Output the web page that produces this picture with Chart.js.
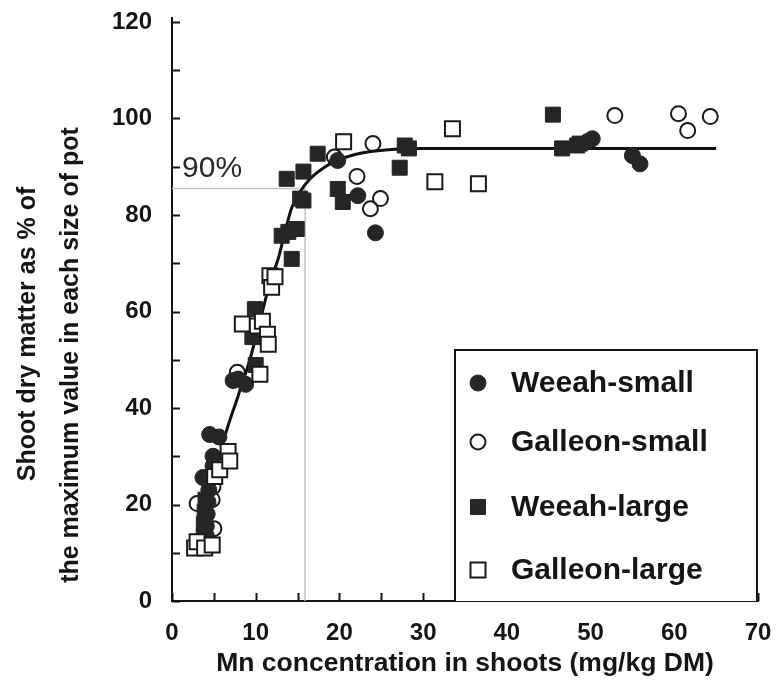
<!DOCTYPE html>
<html>
<head>
<meta charset="utf-8">
<script src="https://cdn.jsdelivr.net/npm/chart.js@4.4.1/dist/chart.umd.min.js"></script>
<style>
html,body{margin:0;padding:0;background:#fff;}
#wrap{width:776px;height:688px;position:relative;}
</style>
</head>
<body>
<div id="wrap"><canvas id="c" width="776" height="688"></canvas></div>
<script>
// ---- data ----
const weeahSmallX = [3.7, 4.1, 4.1, 4.2, 4.3, 4.4, 4.9, 4.9, 4.5, 5.6, 7.3, 7.9, 8.8, 19.8, 22.2, 24.3, 49.6, 50.2, 55.0, 55.9];
const weeahSmallY = [25.6, 13.5, 15.5, 18, 20.5, 23, 28, 30, 34.5, 34, 45.7, 46, 44.9, 91.3, 84, 76.3, 95.2, 95.8, 92.3, 90.6];

const galleonSmallX = [3.0, 4.8, 4.9, 5.0, 5.7, 7.8, 10.5, 19.4, 22.1, 23.7, 24.9, 24.0, 52.9, 60.5, 61.6, 64.3];
const galleonSmallY = [20.2, 21, 23.7, 15, 28.3, 47.4, 56.3, 92, 88, 81.3, 83.4, 94.8, 100.6, 101, 97.5, 100.4];

const weeahLargeX = [3.8, 3.8, 3.9, 4.0, 9.6, 9.9, 10.0, 13.1, 13.9, 14.9, 14.3, 15.3, 15.7, 13.7, 15.7, 17.4, 19.8, 20.4, 27.2, 27.8, 28.3, 45.5, 46.6, 48.4, 48.7];
const weeahLargeY = [13.5, 16, 18.5, 21, 54.7, 60.5, 48.9, 75.7, 76.5, 77.1, 70.9, 83.4, 83, 87.5, 89, 92.7, 85.4, 82.7, 89.8, 94.4, 93.8, 100.8, 93.8, 94.4, 94.8];

const galleonLargeX = [2.7, 3.0, 3.9, 4.8, 5.1, 5.7, 6.7, 6.9, 8.4, 10.2, 10.5, 10.8, 11.4, 11.5, 11.7, 11.9, 12.3, 20.5, 31.4, 33.5, 36.6];
const galleonLargeY = [11, 12.3, 11, 11.6, 25.8, 27.2, 31, 29, 57.4, 57, 47, 58, 55.3, 53.2, 67.4, 65, 67.2, 95.2, 86.9, 97.9, 86.5];

const fitX = [3.6, 4.6, 5.5, 6.3, 7.9, 9.3, 10.8, 11.7, 12.7, 13.5, 14.3, 15.3, 16.5, 18.5, 20, 22, 24, 27, 30, 65];
const fitY = [12, 21, 28, 34, 42.5, 50, 60, 66, 71, 76.5, 81.5, 84.8, 87.5, 90.2, 91.5, 92.6, 93.2, 93.7, 93.8, 93.8];

const refLineX = [0, 15.9, 15.9];
const refLineY = [85.5, 85.5, 0];
const refLabel = '90%';
const refLabelPos = [1.2, 89.6];

const xTicksMin = 0, xTicksMax = 70, xStep = 10, xMinorStep = 5;
const yTicksMin = 0, yTicksMax = 120, yStep = 20, yMinorStep = 10;

const xTitle = 'Mn concentration in shoots (mg/kg DM)';
const yTitleLines = ['Shoot dry matter as % of', 'the maximum value in each size of pot'];
const seriesNames = ['Weeah-small', 'Galleon-small', 'Weeah-large', 'Galleon-large'];

// ---- chart ----
const FONT = '"Liberation Sans", Arial, Helvetica, sans-serif';
const INK = '#151515';
const pts = (xs, ys) => xs.map((x, i) => ({x: x, y: ys[i]}));

const markerStyles = {
  'Weeah-small':   {shape: 'circle', fill: '#262626', stroke: '#262626', r: 8, lw: 1},
  'Galleon-small': {shape: 'circle', fill: 'rgba(255,255,255,0)', stroke: '#1a1a1a', r: 7.5, lw: 2},
  'Weeah-large':   {shape: 'rect', fill: '#262626', stroke: '#262626', r: 10.6, lw: 1},
  'Galleon-large': {shape: 'rect', fill: '#ffffff', stroke: '#1a1a1a', r: 10.6, lw: 2}
};

function scatterSet(name, xs, ys, order) {
  const m = markerStyles[name];
  return {
    label: name, data: pts(xs, ys), pointStyle: m.shape, pointRadius: m.r,
    backgroundColor: m.fill, borderColor: m.stroke, borderWidth: m.lw,
    pointHoverRadius: m.r, order: order
  };
}

const overlay = {
  id: 'overlay',
  beforeDatasetsDraw(chart) {
    const ctx = chart.ctx, xs = chart.scales.x, ys = chart.scales.y, a = chart.chartArea;
    ctx.save();
    ctx.strokeStyle = INK; ctx.lineWidth = 2;
    ctx.beginPath();
    ctx.moveTo(a.left, a.top); ctx.lineTo(a.left, a.top - 5);
    for (let v = yTicksMin; v <= yTicksMax; v += yMinorStep) {
      const py = Math.round(ys.getPixelForValue(v)) + 0.5;
      ctx.moveTo(a.left, py); ctx.lineTo(a.left + 8, py);
    }
    for (let v = xTicksMin; v <= xTicksMax; v += xMinorStep) {
      const px = Math.round(xs.getPixelForValue(v)) + 0.5;
      ctx.moveTo(px, a.bottom); ctx.lineTo(px, a.bottom - 8);
    }
    ctx.stroke();
    // 90% label
    ctx.fillStyle = '#2a2a2a';
    ctx.font = '30px ' + FONT;
    ctx.textBaseline = 'middle'; ctx.textAlign = 'left';
    ctx.fillText(refLabel, xs.getPixelForValue(refLabelPos[0]), ys.getPixelForValue(refLabelPos[1]));
    ctx.restore();
  },
  afterDraw(chart) {
    const ctx = chart.ctx, a = chart.chartArea;
    ctx.save();
    // y title (two lines)
    ctx.fillStyle = INK;
    ctx.font = 'bold 25px ' + FONT;
    ctx.textAlign = 'center'; ctx.textBaseline = 'middle';
    const yCenters = [[28, 334], [71, 355]];
    yTitleLines.forEach((t, i) => {
      ctx.save();
      ctx.translate(yCenters[i][0], yCenters[i][1]);
      ctx.rotate(-Math.PI / 2);
      ctx.fillText(t, 0, 0);
      ctx.restore();
    });
    // legend box
    const bx = a.left + 283, by = a.top + 328, br = a.right - 1, bb = a.bottom;
    ctx.fillStyle = '#fff';
    ctx.fillRect(bx, by, br - bx, bb - by);
    ctx.strokeStyle = INK; ctx.lineWidth = 2;
    ctx.beginPath();
    ctx.moveTo(bx, bb); ctx.lineTo(bx, by); ctx.lineTo(br, by); ctx.lineTo(br, bb);
    ctx.stroke();
    const rowY = [by + 33, by + 92, by + 157, by + 220];
    seriesNames.forEach((name, i) => {
      const m = markerStyles[name];
      const mx = bx + 23, my = rowY[i];
      ctx.beginPath();
      if (m.shape === 'circle') {
        ctx.arc(mx, my, m.r, 0, Math.PI * 2);
      } else {
        const s = m.r * Math.SQRT1_2;
        ctx.rect(mx - s, my - s, 2 * s, 2 * s);
      }
      ctx.fillStyle = m.fill; ctx.fill();
      ctx.lineWidth = m.lw; ctx.strokeStyle = m.stroke; ctx.stroke();
      ctx.fillStyle = INK;
      ctx.font = 'bold 30px ' + FONT;
      ctx.textAlign = 'left'; ctx.textBaseline = 'middle';
      ctx.fillText(name, bx + 56, my + 1);
    });
    ctx.restore();
  }
};

new Chart(document.getElementById('c'), {
  type: 'scatter',
  data: {
    datasets: [
      scatterSet('Galleon-large', galleonLargeX, galleonLargeY, 1),
      scatterSet('Weeah-small', weeahSmallX, weeahSmallY, 2),
      scatterSet('Weeah-large', weeahLargeX, weeahLargeY, 3),
      {type: 'line', label: 'fit', data: pts(fitX, fitY), borderColor: '#111', borderWidth: 3,
       pointRadius: 0, cubicInterpolationMode: 'monotone', fill: false, order: 4},
      scatterSet('Galleon-small', galleonSmallX, galleonSmallY, 5),
      {type: 'line', label: 'ref', data: pts(refLineX, refLineY), borderColor: '#c2c2c2', borderWidth: 1.5,
       pointRadius: 0, tension: 0, fill: false, order: 6}
    ]
  },
  options: {
    responsive: false, animation: false, devicePixelRatio: 1,
    layout: {padding: {top: 22, right: 18, left: 0, bottom: 0}},
    plugins: {legend: {display: false}, tooltip: {enabled: false}},
    scales: {
      x: {
        type: 'linear', min: xTicksMin, max: xTicksMax,
        ticks: {stepSize: xStep, color: INK, padding: 18, maxRotation: 0,
                font: {family: FONT, size: 24, weight: 'bold'}},
        grid: {display: false, drawTicks: false},
        border: {display: true, color: INK, width: 2},
        title: {display: true, text: xTitle, color: INK, padding: {top: 0, bottom: 8},
                font: {family: FONT, size: 26.5, weight: 'bold'}},
        afterFit(s) { s.height = 87; s.paddingLeft = 0; s.paddingRight = 0; }
      },
      y: {
        type: 'linear', min: yTicksMin, max: yTicksMax,
        ticks: {stepSize: yStep, color: INK, padding: 20,
                font: {family: FONT, size: 24, weight: 'bold'}},
        grid: {display: false, drawTicks: false},
        border: {display: true, color: INK, width: 2},
        afterFit(s) { s.width = 172; s.paddingTop = 0; s.paddingBottom = 0; }
      }
    }
  },
  plugins: [overlay]
});
</script>
</body>
</html>
